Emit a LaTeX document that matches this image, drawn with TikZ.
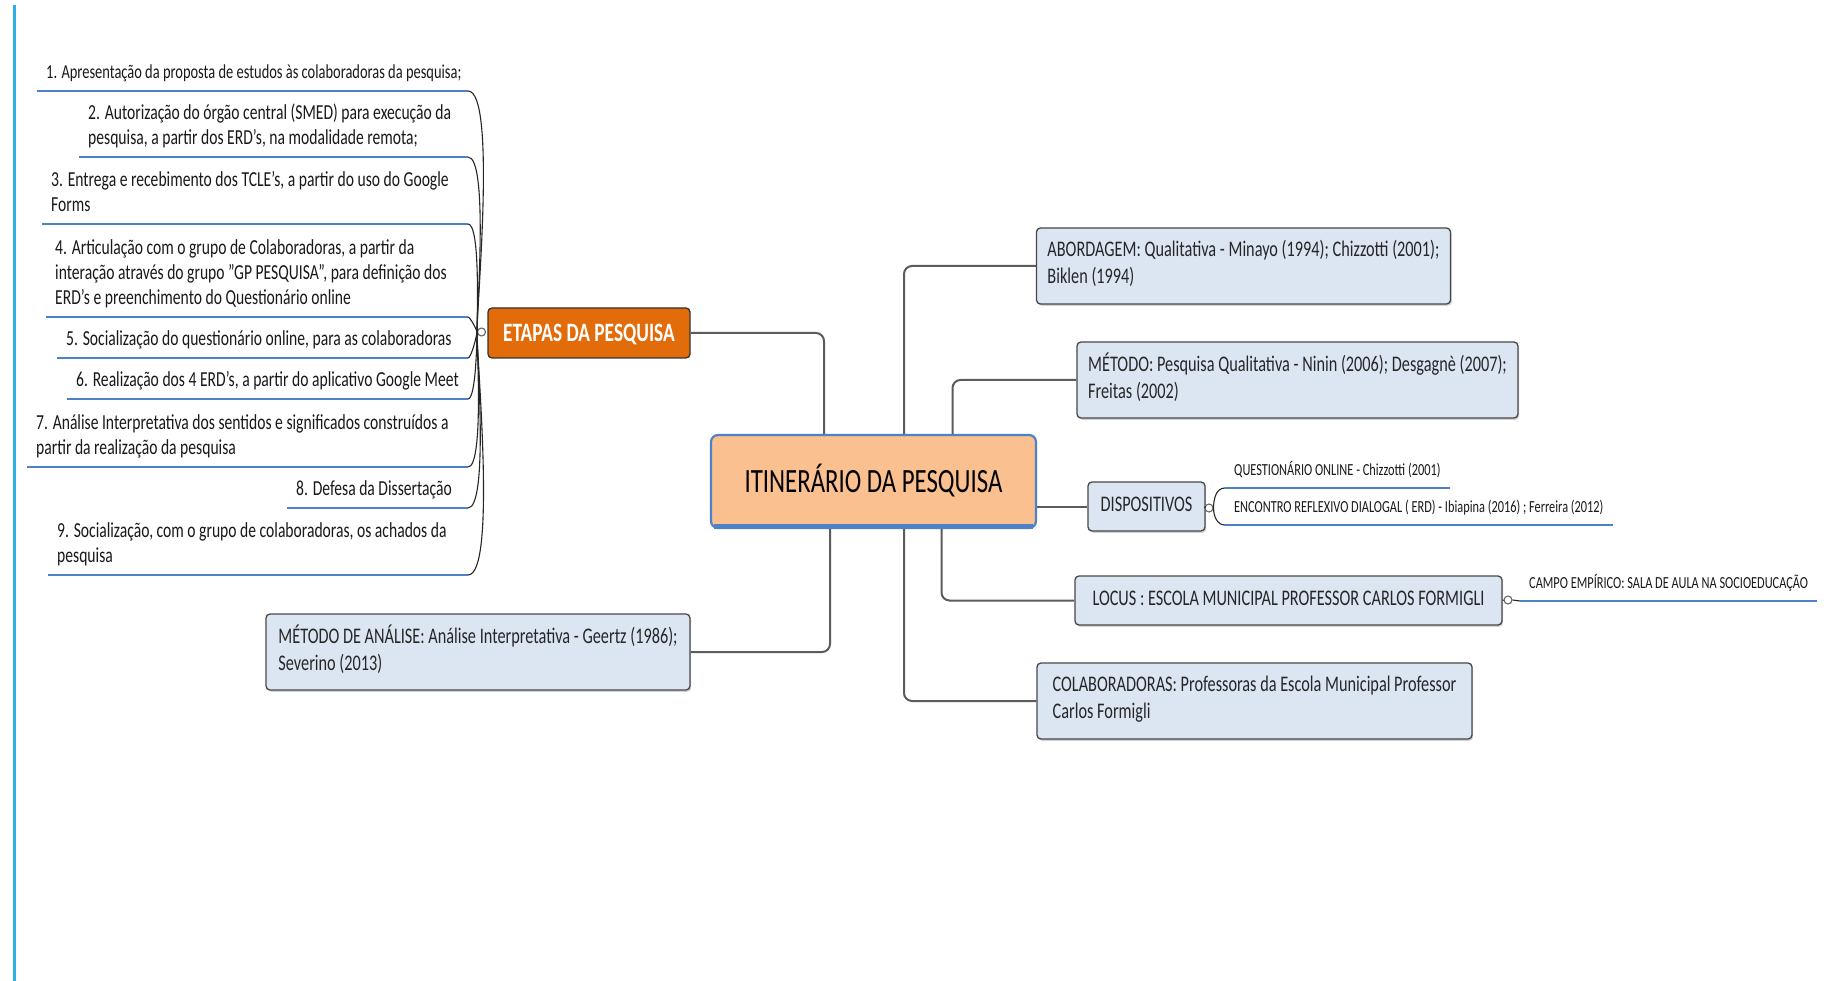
\documentclass[tikz,border=0pt]{standalone}
\usepackage{fontspec}
\setmainfont{Carlito}[FakeStretch=0.73]
\usetikzlibrary{positioning,shadows}

\definecolor{topicfill}{RGB}{220,230,242}
\definecolor{topicline}{RGB}{72,72,72}
\definecolor{linkgray}{RGB}{92,92,92}
\definecolor{ulblue}{RGB}{79,129,200}
\definecolor{etapasorange}{RGB}{227,108,10}
\definecolor{centralfill}{RGB}{250,192,144}
\definecolor{centralblue}{RGB}{79,129,200}
\definecolor{pageblue}{RGB}{45,175,230}

\begin{document}
\begin{tikzpicture}[x=1pt, y=1pt,
    topic/.style={draw=topicline, fill=topicfill, line width=1.3pt, rounded corners=4pt, align=left, inner xsep=11pt, inner ysep=0pt, text=black!85, font={\fontsize{22.3}{27}\selectfont}, execute at begin node=\strut, execute at end node=\strut, drop shadow={shadow xshift=1.2pt, shadow yshift=-1.8pt, opacity=0.35}},
    item/.style={align=left, inner xsep=9pt, inner ysep=5pt, text=black!90, font={\fontsize{21.4}{25}\selectfont}, execute at begin node=\strut, execute at end node=\strut},
    leaf/.style={align=left, inner xsep=9pt, inner ysep=6pt, text=black!90, font={\fontsize{16.9}{20}\selectfont}, execute at end node=\strut},
    hubdot/.style={circle, draw=black!60, fill=white, line width=1.1pt, minimum size=8pt, inner sep=0pt},
    link/.style={draw=linkgray, line width=2pt, rounded corners=8pt},
    bracket/.style={draw=black!85, line width=1.1pt},
    uline/.style={draw=ulblue, line width=2.6pt}
]
\path[use as bounding box, fill=white] (0,0) rectangle (1826,-981);
\draw[pageblue, line width=3pt] (14,-5) -- (14,-981);

\node[draw=centralblue, fill=centralfill, line width=2.2pt, rounded corners=7pt, minimum width=325pt, minimum height=93pt, font={\fontsize{34}{38}\selectfont}, text height=22pt, text depth=0pt] (central) at (873.5,-481.5) {ITINERÁRIO DA PESQUISA};
\draw[centralblue, line width=5pt] ([xshift=4pt,yshift=3pt]central.south west) -- ([xshift=-4pt,yshift=3pt]central.south east);

\node[draw=black!80, fill=etapasorange, line width=1.3pt, rounded corners=4pt, minimum width=202pt, minimum height=50pt, text=white, font={\bfseries\fontsize{26.5}{30}\selectfont}, text height=17pt, text depth=0pt] (etapas) at (589,-333) {ETAPAS DA PESQUISA};
\node[hubdot] (etapasdot) at (481.5,-332) {};
\coordinate (ucol) at (468,0);

\node[topic, minimum width=413pt, minimum height=76pt] (abordagem) at (1243.5,-266) {ABORDAGEM: Qualitativa - Minayo (1994); Chizzotti (2001);\\Biklen (1994)};
\node[topic, minimum width=441pt, minimum height=76pt] (metodo) at (1297.5,-380) {MÉTODO: Pesquisa Qualitativa - Ninin (2006); Desgagnè (2007);\\Freitas (2002)};
\node[topic, minimum width=117pt, minimum height=49pt] (dispositivos) at (1146.5,-506.5) {DISPOSITIVOS};
\node[topic, minimum width=427pt, minimum height=49pt] (locus) at (1288.5,-600.5) {LOCUS : ESCOLA MUNICIPAL PROFESSOR CARLOS FORMIGLI};
\node[topic, minimum width=435pt, minimum height=76pt] (colab) at (1254.5,-701) {COLABORADORAS: Professoras da Escola Municipal Professor\\Carlos Formigli};
\node[topic, minimum width=424pt, minimum height=76pt] (analise) at (478,-652) {MÉTODO DE ANÁLISE: Análise Interpretativa - Geertz (1986);\\Severino (2013)};

\node[hubdot] (dispdot) at (1209,-508) {};
\node[leaf, anchor=south west] (qonline) at (1225,-488) {QUESTIONÁRIO ONLINE - Chizzotti (2001)};
\node[leaf, anchor=south west] (erd) at (1225,-525) {ENCONTRO REFLEXIVO DIALOGAL ( ERD) - Ibiapina (2016) ; Ferreira (2012)};
\node[hubdot] (locusdot) at (1508,-600) {};
\node[leaf, anchor=south west] (campo) at (1520,-601) {CAMPO EMPÍRICO: SALA DE AULA NA SOCIOEDUCAÇÃO};

% etapas
\node[item, anchor=south west, font={\fontsize{19.8}{25}\selectfont}] (i1) at (37,-91) {1. Apresentação da proposta de estudos às colaboradoras da pesquisa;};
\node[item, anchor=south west] (i2) at (79,-157) {2. Autorização do órgão central (SMED) para execução da\\pesquisa, a partir dos ERD's, na modalidade remota;};
\node[item, anchor=south west] (i3) at (42,-224) {3. Entrega e recebimento dos TCLE's, a partir do uso do Google\\Forms};
\node[item, anchor=south west] (i4) at (46,-317) {4. Articulação com o grupo de Colaboradoras, a partir da\\interação através do grupo "GP PESQUISA", para definição dos\\ERD's e preenchimento do Questionário online};
\node[item, anchor=south west] (i5) at (57,-358) {5. Socialização do questionário online, para as colaboradoras};
\node[item, anchor=south west] (i6) at (67,-399) {6. Realização dos 4 ERD's, a partir do aplicativo Google Meet};
\node[item, anchor=south west] (i7) at (27,-467) {7. Análise Interpretativa dos sentidos e significados construídos a\\partir da realização da pesquisa};
\node[item, anchor=south west] (i8) at (287,-508) {8. Defesa da Dissertação};
\node[item, anchor=south west] (i9) at (48,-575) {9. Socialização, com o grupo de colaboradoras, os achados da\\pesquisa};

\draw[uline] (i1.south west) -- (i1.south west -| ucol);
\draw[uline] (i2.south west) -- (i2.south west -| ucol);
\draw[uline] (i3.south west) -- (i3.south west -| ucol);
\draw[uline] (i4.south west) -- (i4.south west -| ucol);
\draw[uline] (i5.south west) -- (i5.south west -| ucol);
\draw[uline] (i6.south west) -- (i6.south west -| ucol);
\draw[uline] (i7.south west) -- (i7.south west -| ucol);
\draw[uline] (i8.south west) -- (i8.south west -| ucol);
\draw[uline] (i9.south west) -- (i9.south west -| ucol);
\draw[uline] (qonline.south west) -- (qonline.south east);
\draw[uline] (erd.south west) -- (erd.south east);
\draw[uline] (campo.south west) -- (campo.south east);

\draw[bracket] (i1.south west -| ucol) to[out=0,in=90,looseness=0.3] (etapasdot.west);
\draw[bracket] (i2.south west -| ucol) to[out=0,in=90,looseness=0.3] (etapasdot.west);
\draw[bracket] (i3.south west -| ucol) to[out=0,in=90,looseness=0.3] (etapasdot.west);
\draw[bracket] (i4.south west -| ucol) to[out=0,in=90,looseness=0.3] (etapasdot.west);
\draw[bracket] (i5.south west -| ucol) to[out=0,in=-90,looseness=0.3] (etapasdot.west);
\draw[bracket] (i6.south west -| ucol) to[out=0,in=-90,looseness=0.3] (etapasdot.west);
\draw[bracket] (i7.south west -| ucol) to[out=0,in=-90,looseness=0.3] (etapasdot.west);
\draw[bracket] (i8.south west -| ucol) to[out=0,in=-90,looseness=0.3] (etapasdot.west);
\draw[bracket] (i9.south west -| ucol) to[out=0,in=-90,looseness=0.3] (etapasdot.west);

\draw[bracket] (dispositivos.east) -- (dispdot.west);
\draw[bracket] (qonline.south west) to[out=180,in=90] (dispdot.east) to[out=-90,in=180] (erd.south west);
\draw[bracket] (locus.east) -- (locusdot.west);
\draw[bracket] (locusdot.east) -- (campo.south west);

% ramos do centro
\draw[link] (etapas.east) -| ([xshift=-49.5pt]central.north);
\draw[link] ([xshift=30.5pt]central.north) |- (abordagem.west);
\draw[link] ([xshift=79pt]central.north) |- (metodo.west);
\draw[link] (dispositivos.west -| central.east) -- (dispositivos.west);
\draw[link] ([xshift=68pt]central.south) |- (locus.west);
\draw[link] ([xshift=30.5pt]central.south) |- (colab.west);
\draw[link] (analise.east) -| ([xshift=-43.5pt]central.south);
\end{tikzpicture}
\end{document}
